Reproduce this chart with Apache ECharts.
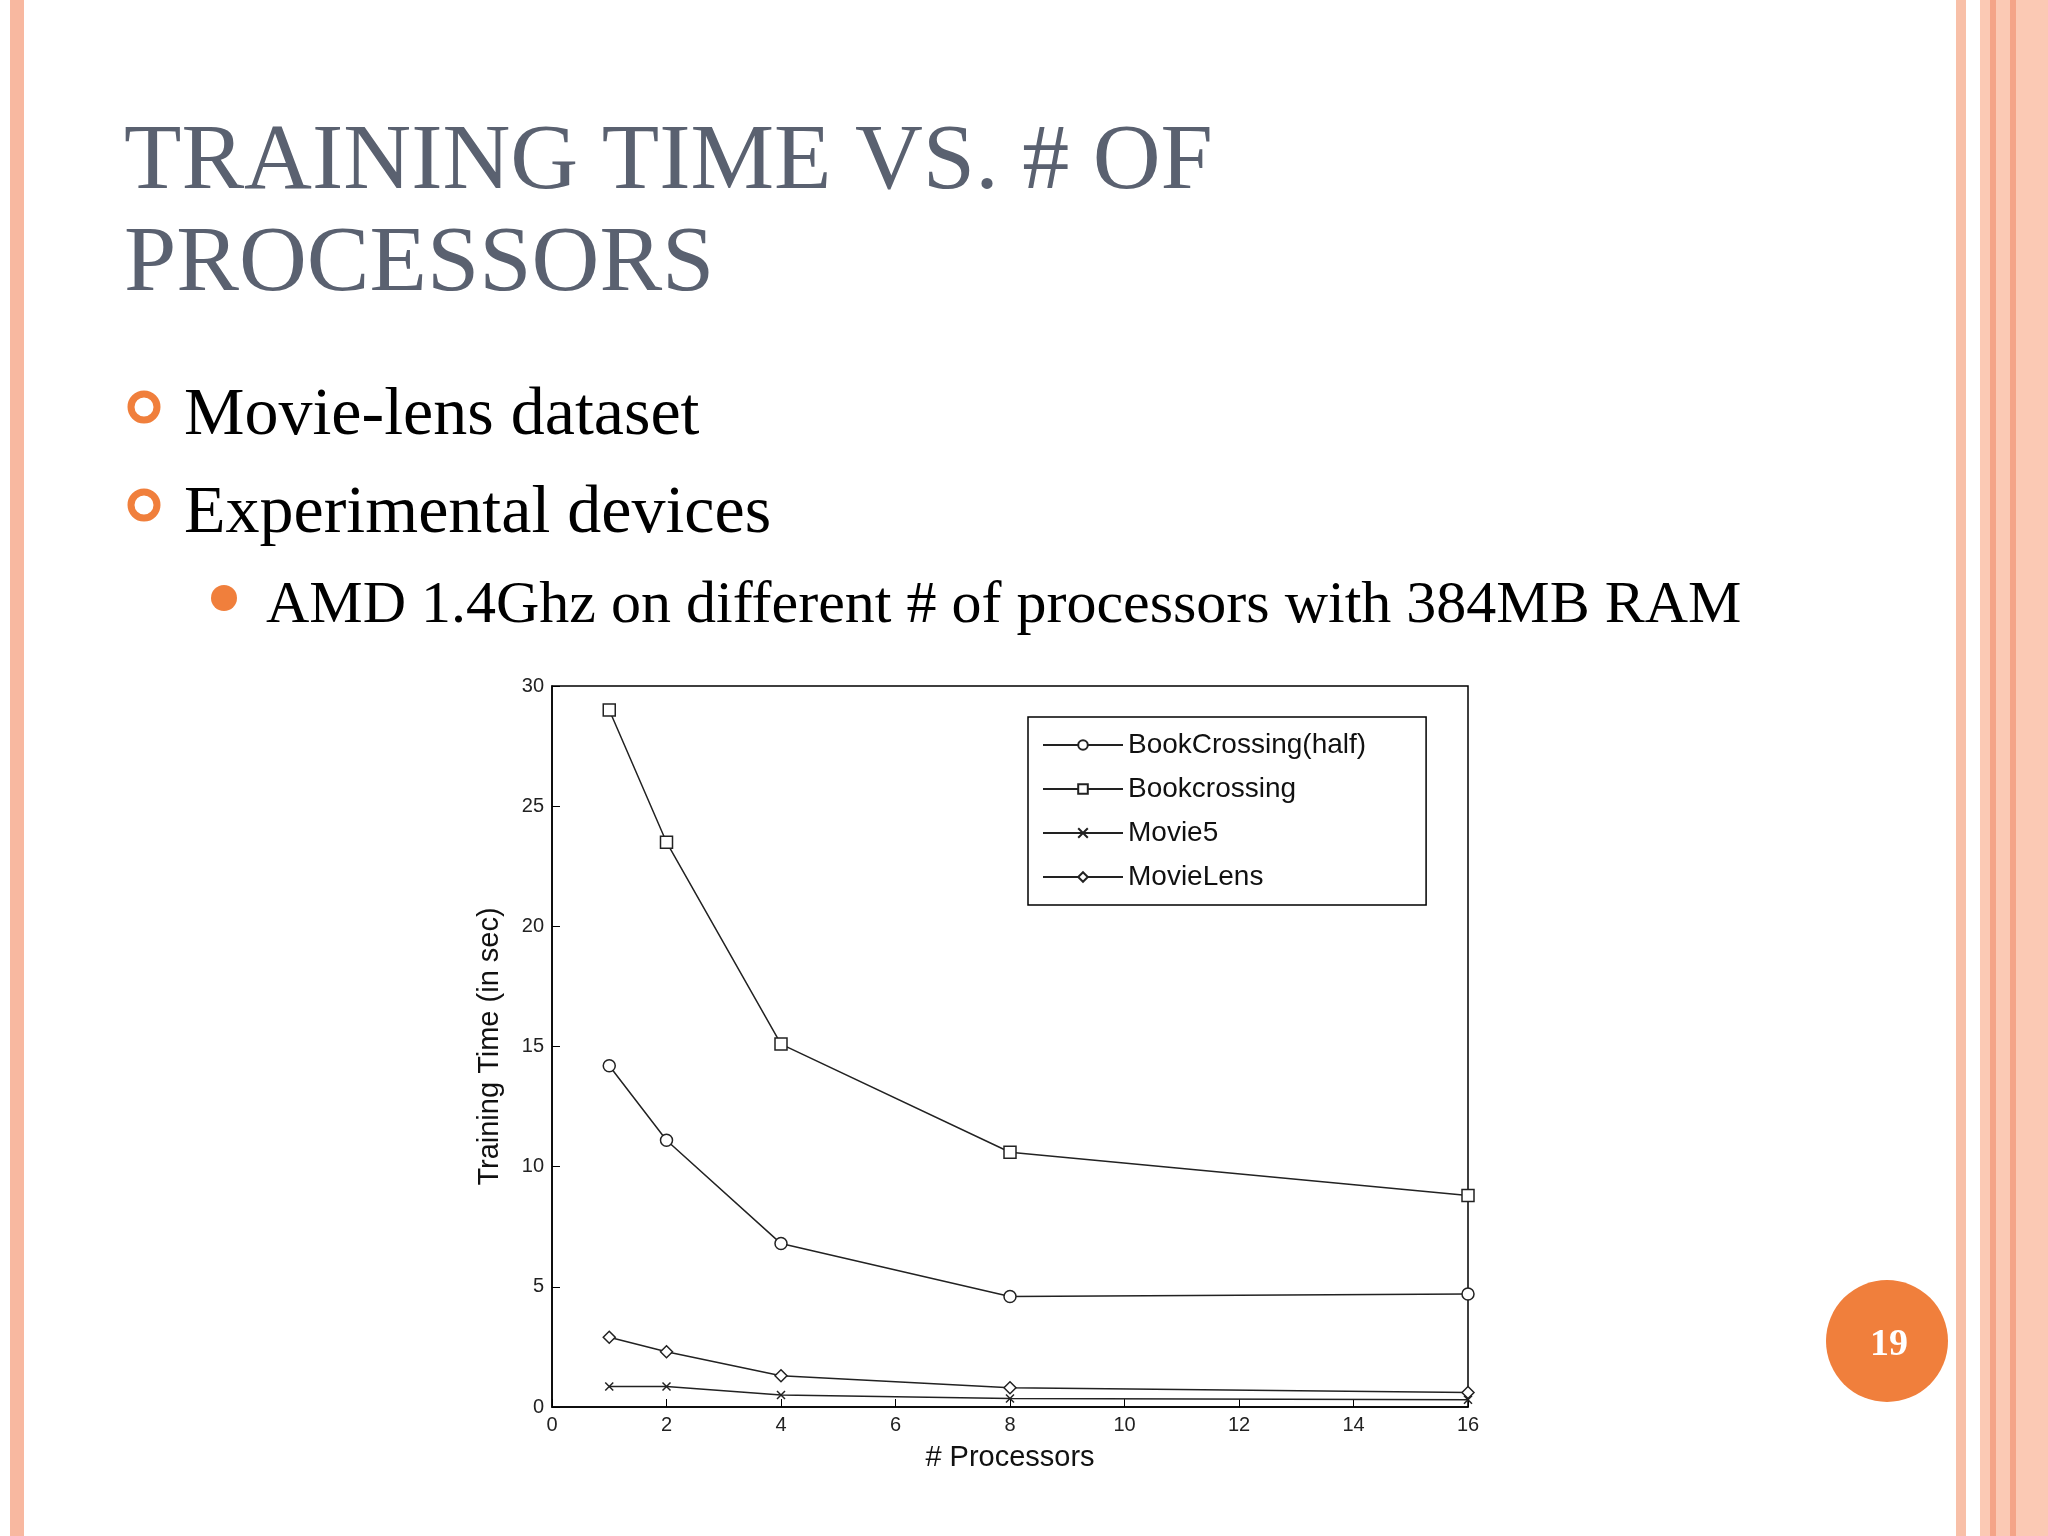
<!DOCTYPE html>
<html><head><meta charset="utf-8">
<script src="https://cdn.jsdelivr.net/npm/echarts@6/dist/echarts.min.js"></script>
<style>html,body{margin:0;padding:0;background:#fff}#main{width:2048px;height:1536px}</style>
</head><body><div id="main"></div>
<script>
// processors and training time (sec)
const processors = [1, 2, 4, 8, 16];
const bookHalf = [14.2, 11.1, 6.8, 4.6, 4.7];
const bookFull = [29.0, 23.5, 15.1, 10.6, 8.8];
const movie5 = [0.85, 0.85, 0.5, 0.35, 0.3];
const movieLens = [2.9, 2.3, 1.3, 0.8, 0.6];
const seriesNames = ['BookCrossing(half)', 'Bookcrossing', 'Movie5', 'MovieLens'];
const symbols = ['circle', 'rect', 'path://M0,0L10,10M10,0L0,10', 'diamond'];

const pairs = arr => processors.map((p, i) => [p, arr[i]]);
const serif = 'Liberation Serif';
const sans = 'Liberation Sans';

var chart = echarts.init(document.getElementById('main'));

const axisCommon = {
    axisLine: { lineStyle: { color: '#000', width: 1.5 } },
    axisTick: { inside: true, length: 8, lineStyle: { color: '#000' } },
    splitLine: { show: false },
    axisLabel: { color: '#222', fontFamily: sans, fontSize: 20 }
};

chart.setOption({
    animation: false,
    grid: { left: 552, right: 2048 - 1468, top: 686, bottom: 1536 - 1407,
        show: true, borderColor: '#000', borderWidth: 1.5 },
    xAxis: Object.assign({ type: 'value', min: 0, max: 16, interval: 2, name: '# Processors',
        nameLocation: 'middle', nameGap: 36,
        nameTextStyle: { fontFamily: sans, fontSize: 29, color: '#111' } }, axisCommon),
    yAxis: Object.assign({ type: 'value', min: 0, max: 30, interval: 5, name: 'Training Time (in sec)',
        nameLocation: 'middle', nameGap: 48,
        nameTextStyle: { fontFamily: sans, fontSize: 29, color: '#111' } }, axisCommon),
    legend: {
        orient: 'vertical', left: 1028, top: 717,
        padding: [14, 60, 14, 14], itemGap: 16, itemWidth: 80, itemHeight: 12,
        borderColor: '#000', borderWidth: 1.5, backgroundColor: '#fff',
        textStyle: { fontFamily: sans, fontSize: 28, color: '#111' },
        data: seriesNames
    },
    series: [bookHalf, bookFull, movie5, movieLens].map((d, i) => ({
        name: seriesNames[i], type: 'line', data: pairs(d),
        symbol: symbols[i], symbolSize: i === 2 ? 8 : 12,
        lineStyle: { color: '#222', width: 1.5 },
        itemStyle: { color: '#fff', borderColor: '#222', borderWidth: 1.5 }
    })),
    graphic: [
        { type: 'rect', shape: { x: 10, y: 0, width: 14, height: 1536 }, style: { fill: '#f8b8a0' } },
        { type: 'rect', shape: { x: 1956, y: 0, width: 10, height: 1536 }, style: { fill: '#f8c0a8' } },
        { type: 'rect', shape: { x: 1980, y: 0, width: 68, height: 1536 }, style: { fill: '#fbc9b4' } },
        { type: 'rect', shape: { x: 1990, y: 0, width: 6, height: 1536 }, style: { fill: '#f4a488' } },
        { type: 'rect', shape: { x: 2010, y: 0, width: 6, height: 1536 }, style: { fill: '#f4a488' } },
        { type: 'text', left: 124, top: 112, style: { text: 'TRAINING TIME VS. # OF\nPROCESSORS',
            font: '94px "' + serif + '"', fill: '#5a6170', lineHeight: 102 } },
        { type: 'circle', shape: { cx: 144, cy: 407, r: 13 }, style: { fill: 'none', stroke: '#f07f3c', lineWidth: 7 } },
        { type: 'circle', shape: { cx: 144, cy: 505, r: 13 }, style: { fill: 'none', stroke: '#f07f3c', lineWidth: 7 } },
        { type: 'circle', shape: { cx: 224, cy: 598, r: 13 }, style: { fill: '#f07f3c' } },
        { type: 'text', left: 184, top: 382, style: { text: 'Movie-lens dataset', font: '68px "' + serif + '"', fill: '#000' } },
        { type: 'text', left: 184, top: 480, style: { text: 'Experimental devices', font: '68px "' + serif + '"', fill: '#000' } },
        { type: 'text', left: 266, top: 576, style: { text: 'AMD 1.4Ghz on different # of processors with 384MB RAM', font: '60px "' + serif + '"', fill: '#000' } },
        { type: 'circle', shape: { cx: 1887, cy: 1341, r: 61 }, style: { fill: '#f07f3c' } },
        { type: 'text', x: 1889, y: 1345, style: { text: '19', font: 'bold 38px "' + serif + '"', fill: '#fff', textAlign: 'center', textVerticalAlign: 'middle' } }
    ]
});
</script></body></html>
